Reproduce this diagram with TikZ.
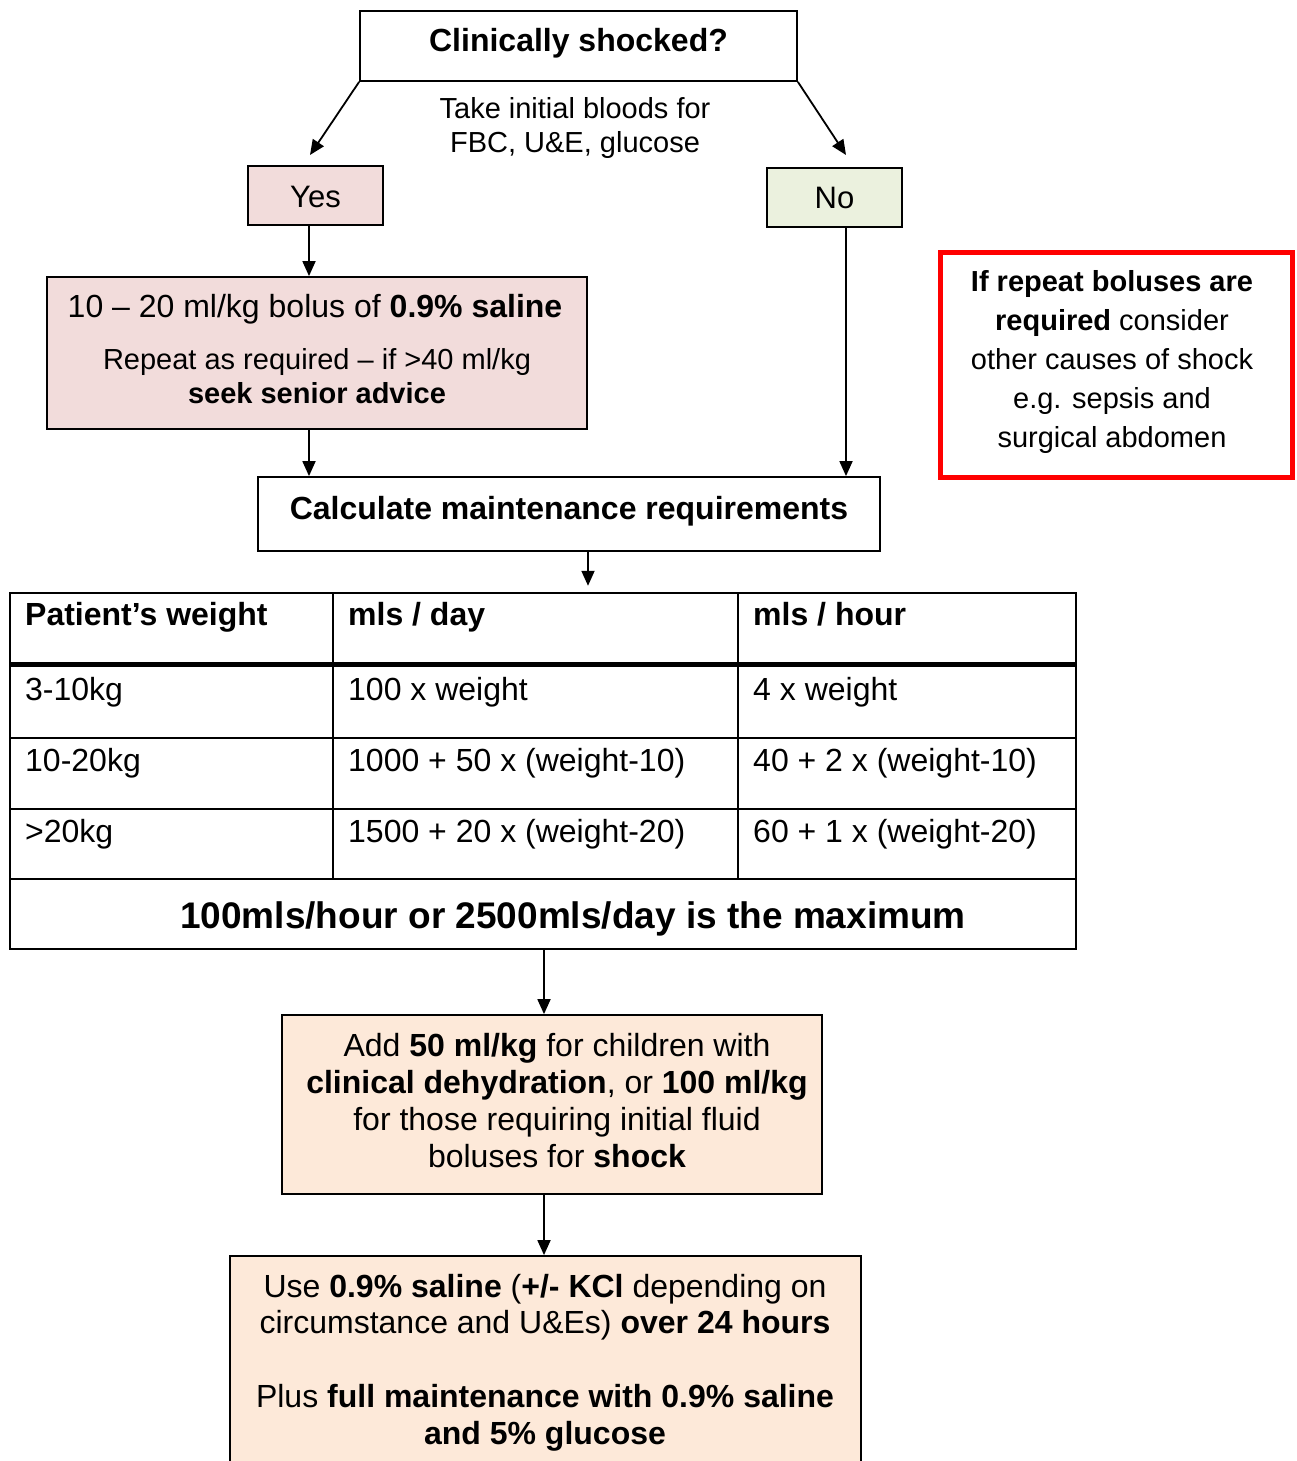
\documentclass[tikz,border=0pt]{standalone}
\usepackage{fontspec}
\setmainfont{Liberation Sans}
\usetikzlibrary{arrows.meta}
\definecolor{pinkbox}{HTML}{F2DCDB}
\definecolor{greenbox}{HTML}{EBF1DE}
\definecolor{peachbox}{HTML}{FDE9D9}
\definecolor{redline}{HTML}{FF0000}
\begin{document}
\begin{tikzpicture}[x=1pt,y=-1pt,
  box/.style={draw=black, line width=1.8pt, inner sep=0pt},
  txt/.style={inner sep=0pt, align=center},
  celltxt/.style={inner sep=0pt, anchor=base west, font=\fontsize{32}{36}\selectfont},
  arr/.style={-{Triangle[length=15pt,width=13pt]}, line width=1.8pt},
  tline/.style={line width=1.8pt}]
\clip (0,0) rectangle (1297,1461);
\fill[white] (0,0) rectangle (1297,1461);

% top box
\node[box, minimum width=437pt, minimum height=70pt] (top) at (578.5,46) {};
\node[txt, font=\fontsize{32}{36}\selectfont\bfseries] (toptxt) at (578.5,43) {Clinically shocked?};
\node[txt, font=\fontsize{29}{34}\selectfont] (blood) at (575,128) {Take initial bloods for\\FBC, U\&E, glucose};

% yes / no
\node[box, fill=pinkbox, minimum width=135pt, minimum height=59pt] (yes) at (315.5,195.5) {};
\node[txt, font=\fontsize{31}{36}\selectfont] (yestxt) at (315.5,197) {Yes};
\node[box, fill=greenbox, minimum width=135pt, minimum height=59pt] (no) at (834.5,197.5) {};
\node[txt, font=\fontsize{31}{36}\selectfont] (notxt) at (834.5,198) {No};

\coordinate (yesin) at (310,155);
\coordinate (noin) at (846,155);
\draw[arr] (top.south west) -- (yesin);
\draw[arr] (top.south east) -- (noin);

% bolus box
\node[box, fill=pinkbox, minimum width=540pt, minimum height=152pt] (bolus) at (317,353) {};
\node[txt, font=\fontsize{32}{36}\selectfont] (bolus1) at (315,309) {10 – 20 ml/kg bolus of \textbf{0.9\% saline}};
\node[txt, font=\fontsize{29}{34}\selectfont] (bolus2) at (317,376) {Repeat as required – if >40 ml/kg\\\textbf{seek senior advice}};

\coordinate (xyes) at (309,0);
\draw[arr] (yes.south -| xyes) -- (bolus.north -| xyes);

% calc box
\node[box, minimum width=622pt, minimum height=74pt] (calc) at (569,514) {};
\node[txt, font=\fontsize{32}{36}\selectfont\bfseries] (calctxt) at (569,511) {Calculate maintenance requirements};
\draw[arr] (bolus.south -| xyes) -- (calc.north -| xyes);
\coordinate (xno) at (846,0);
\draw[arr] (no.south -| xno) -- (calc.north -| xno);

% table
\node[minimum width=1066pt, minimum height=356pt, inner sep=0pt] (table) at (543,771) {};
\draw[tline] (10,593) rectangle (1076,949);
\draw[tline] (10,738) -- (1076,738);
\draw[tline] (10,809) -- (1076,809);
\draw[tline] (10,879) -- (1076,879);
\draw[line width=5pt] (10,664.5) -- (1076,664.5);
\draw[tline] (333,593) -- (333,879);
\draw[tline] (738,593) -- (738,879);

\node[celltxt, font=\fontsize{32}{36}\selectfont\bfseries] (h1) at (25,625) {Patient’s weight};
\node[celltxt, font=\fontsize{32}{36}\selectfont\bfseries] (h2) at (348,625) {mls / day};
\node[celltxt, font=\fontsize{32}{36}\selectfont\bfseries] (h3) at (753,625) {mls / hour};
\node[celltxt] (a1) at (25,700.5) {3-10kg};
\node[celltxt] (a2) at (348,700.5) {100 x weight};
\node[celltxt] (a3) at (753,700.5) {4 x weight};
\node[celltxt] (b1) at (25,771) {10-20kg};
\node[celltxt] (b2) at (348,771) {1000 + 50 x (weight-10)};
\node[celltxt] (b3) at (753,771) {40 + 2 x (weight-10)};
\node[celltxt] (c1) at (25,842) {>20kg};
\node[celltxt] (c2) at (348,842) {1500 + 20 x (weight-20)};
\node[celltxt] (c3) at (753,842) {60 + 1 x (weight-20)};
\node[txt, font=\fontsize{37}{42}\selectfont\bfseries] (maxtxt) at (573,919) {100mls/hour or 2500mls/day is the maximum};

\coordinate (xcalc) at (588,0);
\draw[arr] (calc.south -| xcalc) -- ([yshift=7pt]table.north -| xcalc);

% add box
\node[box, fill=peachbox, minimum width=540pt, minimum height=179pt] (add) at (552,1104.5) {};
\node[txt, font=\fontsize{32}{37}\selectfont] (addtxt) at (557,1101) {Add \textbf{50 ml/kg} for children with\\\textbf{clinical dehydration}, or \textbf{100 ml/kg}\\for those requiring initial fluid\\boluses for \textbf{shock}};
\coordinate (xmid) at (544,0);
\draw[arr] (table.south -| xmid) -- (add.north -| xmid);

% final box
\node[box, fill=peachbox, minimum width=631pt, minimum height=230pt] (final) at (545.5,1371) {};
\node[txt, font=\fontsize{32}{36}\selectfont] (final1) at (545,1307) {Use \textbf{0.9\% saline} (\textbf{+/- KCl} depending on\\circumstance and U\&Es) \textbf{over 24 hours}};
\node[txt, font=\fontsize{32}{37}\selectfont] (final2) at (545,1418) {Plus \textbf{full maintenance with 0.9\% saline}\\\textbf{and 5\% glucose}};
\draw[arr] (add.south -| xmid) -- (final.north -| xmid);

% red box
\node[draw=redline, line width=5pt, minimum width=352pt, minimum height=225pt, inner sep=0pt] (note) at (1116,364.5) {};
\node[txt, font=\fontsize{29}{39}\selectfont] (notetxt) at (1112,362) {\textbf{If repeat boluses are}\\\textbf{required} consider\\other causes of shock\\e.g. sepsis and\\surgical abdomen};
\end{tikzpicture}
\end{document}
